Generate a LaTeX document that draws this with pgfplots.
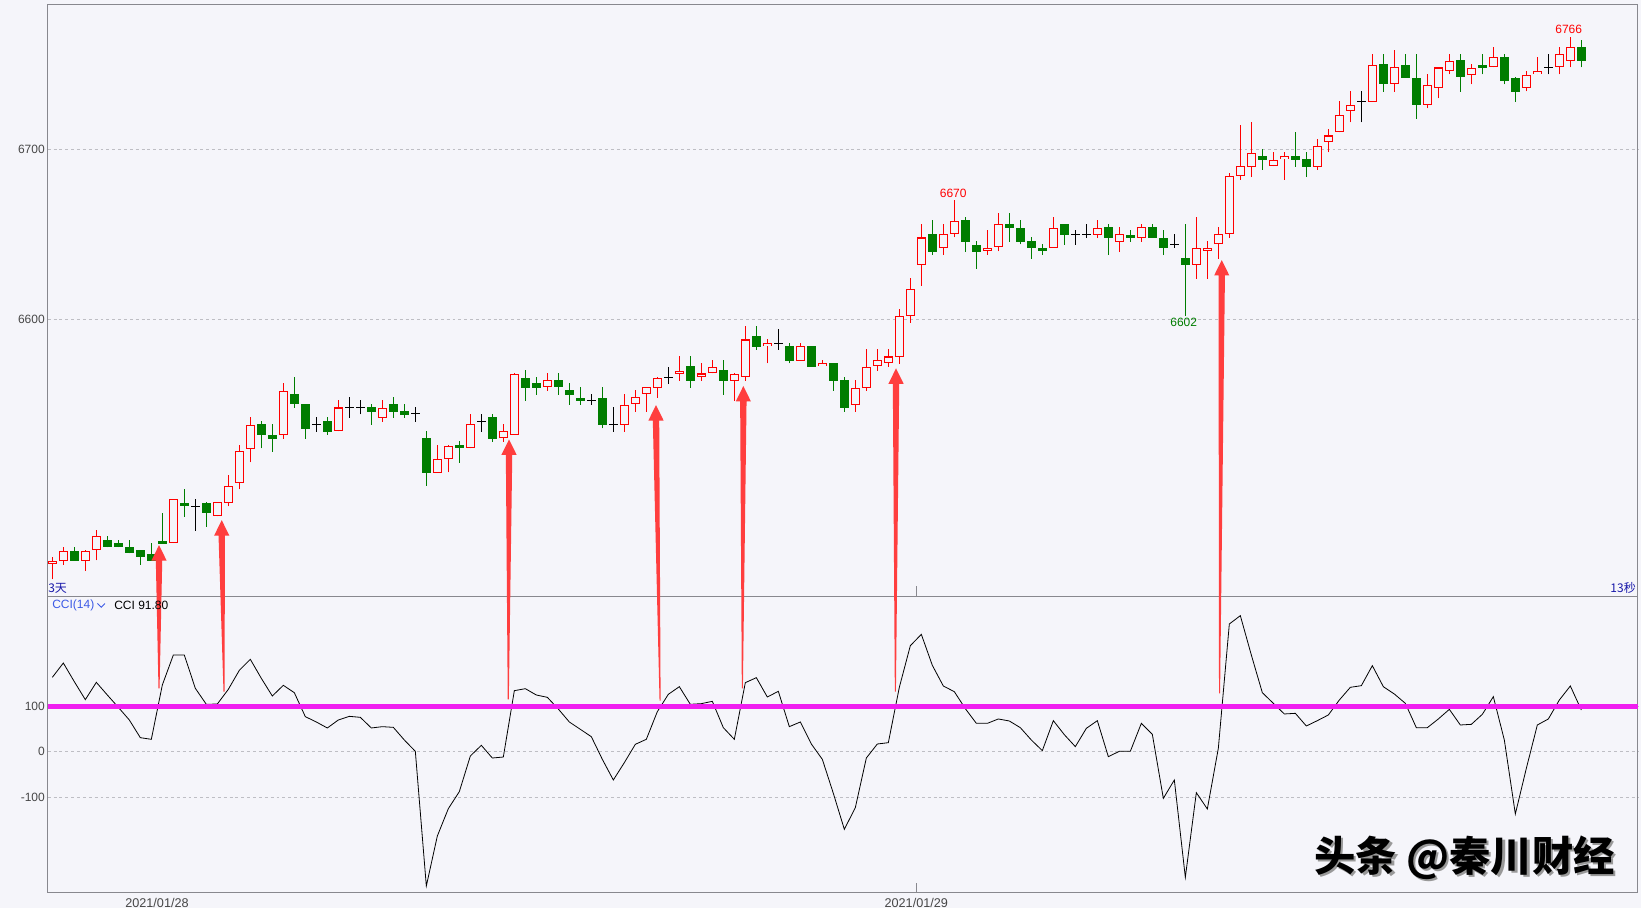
\documentclass[border=0pt]{standalone}
\usepackage{pgfplots}
\pgfplotsset{compat=1.18}
\usepackage{pgfplotstable}
\usepackage{fontspec}
\setmainfont{Liberation Sans}
\newfontfamily\cjk{Noto Sans CJK SC}
\usetikzlibrary{calc}

\definecolor{bg}{RGB}{245,245,250}
\definecolor{frame}{RGB}{136,136,142}
\definecolor{upred}{RGB}{255,0,0}
\definecolor{dngreen}{RGB}{0,125,0}
\definecolor{magline}{RGB}{240,30,240}
\definecolor{arrowred}{RGB}{255,62,62}
\definecolor{gridgray}{RGB}{190,190,196}
\definecolor{lblgray}{RGB}{70,70,70}
\definecolor{navy}{RGB}{25,25,170}
\definecolor{cciblue}{RGB}{60,90,230}

% rising candles (red, hollow)
\pgfplotstableread{
i O H L C
0 6456.1 6460.2 6447.0 6458.2
1 6458.2 6465.9 6455.7 6464.1
3 6458.2 6464.1 6452.1 6464.1
4 6464.1 6476.1 6458.2 6472.3
11 6468.4 6494.1 6468.4 6494.1
15 6484.1 6492.3 6484.1 6492.3
16 6492.3 6508.4 6490.0 6502.3
17 6504.1 6526.1 6500.0 6522.5
18 6524.1 6542.5 6515.9 6538.2
21 6532.3 6562.5 6529.8 6558.2
26 6534.1 6552.5 6534.1 6548.2
30 6542.3 6552.5 6539.8 6548.2
35 6510.0 6526.1 6510.0 6518.2
36 6518.2 6525.9 6510.0 6525.9
38 6524.1 6544.3 6524.1 6538.4
41 6530.0 6538.4 6528.0 6534.3
42 6532.3 6568.2 6532.3 6568.2
45 6560.0 6568.2 6558.0 6564.1
52 6538.2 6555.9 6533.9 6550.0
53 6550.0 6558.4 6545.7 6554.1
54 6555.9 6560.0 6545.7 6560.0
55 6560.0 6565.9 6553.9 6565.9
57 6568.2 6578.4 6563.9 6570.0
59 6565.9 6574.1 6563.9 6568.2
60 6568.2 6576.1 6568.2 6572.1
62 6564.1 6568.2 6551.9 6568.2
63 6565.9 6596.1 6563.9 6588.2
65 6584.1 6588.2 6574.1 6585.9
68 6575.7 6585.9 6575.7 6584.3
70 6572.5 6576.1 6572.5 6574.3
73 6550.0 6564.3 6545.7 6560.0
74 6560.0 6582.3 6558.0 6572.3
75 6572.3 6582.3 6569.8 6575.9
76 6574.1 6582.3 6572.1 6578.2
77 6578.2 6606.1 6573.9 6602.3
78 6602.3 6624.1 6598.0 6618.2
79 6632.3 6656.1 6619.8 6648.2
81 6642.3 6656.1 6638.0 6650.2
82 6650.2 6670.0 6648.2 6658.2
85 6640.0 6652.5 6638.0 6642.3
86 6642.3 6662.3 6640.0 6656.1
91 6642.3 6660.2 6642.3 6654.1
95 6650.0 6658.2 6647.8 6654.1
97 6645.7 6654.1 6639.6 6650.0
99 6648.0 6656.1 6645.7 6654.1
104 6632.1 6660.2 6623.9 6642.3
105 6640.0 6646.1 6623.9 6642.3
106 6644.1 6654.3 6635.7 6650.0
107 6650.0 6685.9 6648.0 6684.1
108 6684.1 6714.3 6682.1 6690.0
109 6690.0 6716.1 6683.7 6698.2
111 6690.0 6698.2 6690.0 6693.9
112 6694.1 6698.2 6682.1 6696.1
115 6690.0 6705.9 6688.0 6702.3
116 6704.1 6712.1 6698.2 6708.2
117 6710.0 6728.4 6710.0 6720.0
118 6722.5 6734.3 6715.9 6726.1
120 6728.2 6755.9 6728.2 6750.0
122 6738.2 6758.2 6733.9 6748.2
125 6725.9 6744.1 6724.1 6738.2
126 6736.1 6748.2 6730.0 6748.2
127 6746.1 6755.9 6744.1 6752.3
129 6744.1 6750.0 6738.2 6748.2
131 6748.2 6760.0 6748.2 6754.1
134 6736.1 6746.1 6734.1 6744.1
135 6744.1 6754.1 6744.1 6745.9
137 6748.2 6760.0 6744.1 6755.9
138 6752.3 6766.0 6748.2 6760.0
}\candleup

% falling candles (green, filled)
\pgfplotstableread{
i O H L C
2 6464.1 6465.9 6458.2 6458.2
5 6470.0 6472.5 6465.9 6465.9
6 6468.4 6470.2 6465.9 6465.9
7 6465.9 6470.2 6462.3 6462.3
8 6464.1 6464.1 6455.7 6460.0
9 6462.3 6468.4 6458.2 6458.2
10 6470.0 6486.1 6468.2 6468.2
12 6492.3 6500.2 6483.9 6490.0
14 6492.3 6492.3 6478.0 6485.9
19 6538.2 6540.2 6524.1 6532.3
20 6532.3 6538.2 6522.1 6529.8
22 6556.1 6566.3 6548.0 6550.0
23 6550.2 6550.2 6529.8 6535.7
25 6540.2 6542.7 6532.1 6533.9
29 6548.2 6550.2 6538.0 6545.7
31 6550.2 6554.3 6542.1 6545.7
32 6545.9 6550.2 6542.1 6543.9
34 6530.2 6534.3 6502.1 6509.8
37 6525.9 6528.4 6515.7 6524.1
40 6542.5 6544.3 6528.0 6529.8
43 6565.9 6570.2 6552.1 6560.0
44 6562.5 6565.9 6555.7 6560.0
46 6564.1 6568.2 6555.7 6560.0
47 6558.4 6562.3 6549.8 6555.9
48 6554.1 6560.0 6549.8 6552.1
50 6554.1 6560.0 6535.9 6538.2
58 6572.5 6578.4 6559.8 6563.9
61 6570.0 6576.1 6555.7 6563.9
64 6590.2 6596.1 6582.1 6583.9
67 6584.3 6585.9 6574.1 6575.7
69 6584.3 6584.3 6572.1 6572.1
71 6574.3 6574.3 6558.0 6563.9
72 6564.3 6565.9 6545.7 6548.0
80 6650.2 6658.2 6638.0 6639.8
83 6658.2 6660.2 6639.8 6645.7
84 6644.1 6646.1 6629.8 6639.8
87 6656.1 6662.3 6645.7 6654.1
88 6654.1 6658.2 6644.1 6645.7
89 6646.1 6648.2 6635.7 6642.1
90 6642.3 6644.3 6638.0 6640.0
92 6656.1 6656.1 6643.9 6649.8
96 6654.1 6656.1 6637.8 6648.0
98 6650.0 6652.3 6645.7 6648.0
100 6654.1 6656.1 6648.0 6648.0
101 6648.2 6652.3 6637.8 6642.1
103 6636.1 6656.1 6602.0 6632.1
110 6696.1 6700.0 6688.0 6693.9
113 6696.1 6710.2 6689.8 6693.9
114 6694.1 6698.2 6683.7 6689.8
121 6750.0 6755.9 6733.9 6738.2
123 6750.0 6755.9 6742.3 6742.3
124 6742.3 6755.9 6718.0 6725.9
128 6752.3 6755.9 6733.9 6742.3
130 6750.0 6755.9 6744.1 6748.2
132 6754.1 6755.9 6738.2 6740.0
133 6742.3 6742.3 6728.0 6734.1
139 6760.0 6764.1 6748.2 6752.3
}\candledn

% unchanged candles (black cross)
\pgfplotstableread{
i P H L
13 6490.0 6494.1 6475.7
24 6538.4 6542.7 6533.9
27 6548.2 6554.3 6542.1
28 6548.2 6552.5 6544.1
33 6544.7 6548.2 6539.8
39 6540.2 6544.3 6533.9
49 6552.5 6555.9 6549.8
51 6538.2 6548.2 6533.9
56 6565.9 6572.1 6561.9
66 6585.9 6594.1 6582.1
93 6650.0 6652.5 6643.9
94 6649.8 6656.1 6647.8
102 6643.9 6650.0 6642.1
119 6728.2 6734.3 6715.9
136 6748.2 6755.9 6744.1
}\candledoji

% CCI(14)
\pgfplotstableread{
i v
0 163.7
1 195.2
2 154.2
3 114.7
4 152.7
5 124.9
6 97.8
7 70.0
8 31.1
9 27.5
10 146.9
11 212.8
12 212.8
13 139.6
14 104.4
15 105.1
16 137.4
17 179.1
18 203.3
19 161.5
20 122.7
21 146.2
22 130.0
23 77.3
24 65.6
25 52.4
26 70.0
27 78.0
28 75.8
29 52.4
30 55.3
31 53.8
32 26.0
33 1.1
34 -294.9
35 -185.0
36 -124.9
37 -87.5
38 -9.2
39 14.3
40 -13.6
41 -11.4
42 134.4
43 138.8
44 124.9
45 119.8
46 94.1
47 65.6
48 49.5
49 33.3
50 -16.5
51 -61.9
52 -23.8
53 16.5
54 27.5
55 88.3
56 126.4
57 143.2
58 104.4
59 105.9
60 111.0
61 53.1
62 27.5
63 152.0
64 163.0
65 120.5
66 133.0
67 55.3
68 65.6
69 17.2
70 -16.5
71 -91.2
72 -170.3
73 -122.7
74 -13.6
75 17.2
76 20.1
77 141.8
78 233.3
79 258.2
80 190.1
81 144.7
82 132.2
83 94.9
84 62.6
85 62.6
86 72.2
87 67.8
88 53.1
89 26.0
90 2.6
91 68.5
92 37.7
93 11.4
94 51.6
95 68.5
96 -10.6
97 1.1
98 1.1
99 62.6
100 38.5
101 -102.2
102 -61.9
103 -275.8
104 -89.7
105 -125.6
106 7.7
107 281.0
108 299.3
109 212.8
110 130.0
111 106.6
112 83.2
113 84.6
114 56.8
115 68.5
116 81.0
117 113.9
118 141.8
119 145.4
120 189.4
121 143.2
122 127.1
123 106.6
124 53.1
125 53.1
126 72.2
127 93.4
128 59.0
129 60.4
130 82.4
131 121.2
132 26.0
133 -136.6
134 -36.3
135 59.0
136 72.2
137 113.9
138 144.7
139 91.8
}\ccidata

\pgfplotsset{
  panel/.style={
    scale only axis, width=1192.7pt,
    xmin=-0.42, xmax=144.15,
    xtick=\empty,
    major tick length=0pt,
    axis line style={draw=frame, line width=0.75pt},
    ymajorgrids,
    major grid style={draw=gridgray, line width=0.6pt, dash pattern=on 2.2pt off 2.2pt},
    yticklabel style={font=\fontsize{9}{10}\selectfont, text=lblgray, anchor=east, inner sep=0pt, xshift=-2pt},
    clip=false,
    anchor=north west,
  },
  wick/.style={draw=none, forget plot,
    error bars/.cd, y dir=plus, y explicit, error mark=none,
    error bar style={draw=#1, line width=0.75pt}},
  body/.style={draw=none, forget plot,
    error bars/.cd, y dir=both, y explicit, error mark=none,
    error bar style={draw=#1, line width=6.75pt}},
  hollow/.style={draw=none, forget plot,
    error bars/.cd, y dir=both, y explicit, error mark=none,
    error bar style={draw=bg, line width=5.2pt}},
}

\begin{document}
\begin{tikzpicture}
\useasboundingbox (0pt,0pt) rectangle (1230.75pt,-681pt);
\fill[bg] (0pt,0pt) rectangle (1230.75pt,-681pt);

% price panel
\begin{axis}[panel, at={(35.78pt,-3pt)}, height=444.2pt,
  ymin=6437.1, ymax=6785.5,
  ytick={6600,6700}, yticklabels={6600,6700}]
  % green
  \addplot[wick=dngreen] table[x=i, y=L, y error expr={\thisrow{H}-\thisrow{L}}] {\candledn};
  \addplot[body=dngreen] table[x=i, y expr={(\thisrow{O}+\thisrow{C})/2}, y error expr={abs(\thisrow{O}-\thisrow{C})/2}] {\candledn};
  % red
  \addplot[wick=upred] table[x=i, y=L, y error expr={\thisrow{H}-\thisrow{L}}] {\candleup};
  \addplot[body=upred] table[x=i, y expr={(\thisrow{O}+\thisrow{C})/2}, y error expr={abs(\thisrow{O}-\thisrow{C})/2}] {\candleup};
  \addplot[hollow] table[x=i, y expr={(\thisrow{O}+\thisrow{C})/2}, y error expr={max(abs(\thisrow{O}-\thisrow{C})/2-0.59,0)}] {\candleup};
  % doji
  \addplot[wick=black] table[x=i, y=L, y error expr={\thisrow{H}-\thisrow{L}}] {\candledoji};
  \addplot[draw=none, forget plot, error bars/.cd, x dir=both, x explicit, error mark=none,
    error bar style={draw=black, line width=0.75pt}]
    table[x=i, y=P, x error expr={0.41}] {\candledoji};

  \node[anchor=south, inner sep=0pt, yshift=2.2pt, text=upred, font=\fontsize{9}{10}\selectfont] at (axis cs:81.9,6670) {6670};
  \node[anchor=south, inner sep=0pt, yshift=2.2pt, text=upred, font=\fontsize{9}{10}\selectfont] at (axis cs:137.85,6766) {6766};
  \node[anchor=north, inner sep=0pt, yshift=-1.5pt, text=dngreen, font=\fontsize{9}{10}\selectfont] at (axis cs:102.85,6602) {6602};

  \coordinate (t1) at (axis cs:9.70,6467.2);
  \coordinate (t2) at (axis cs:15.40,6481.9);
  \coordinate (t3) at (axis cs:41.52,6529.4);
  \coordinate (t4) at (axis cs:54.88,6549.6);
  \coordinate (t5) at (axis cs:62.82,6560.8);
  \coordinate (t6) at (axis cs:76.70,6571.2);
  \coordinate (t7) at (axis cs:106.31,6634.9);
\end{axis}

% CCI panel
\begin{axis}[panel, at={(35.78pt,-447.23pt)}, height=222pt,
  ymin=-308.8, ymax=341.8,
  ytick={-100,0,100}, yticklabels={-100,0,100}]
  \addplot[black, line width=0.6pt] table[x=i, y=v] {\ccidata};
  \addplot[magline, line width=3.3pt, forget plot] coordinates {(-0.42,100) (144.15,100)};

  \coordinate (b1) at (axis cs:9.70,139.6);
  \coordinate (b2) at (axis cs:15.61,132.1);
  \coordinate (b3) at (axis cs:41.45,115.4);
  \coordinate (b4) at (axis cs:55.25,112.3);
  \coordinate (b5) at (axis cs:62.73,139.6);
  \coordinate (b6) at (axis cs:76.64,132.1);
  \coordinate (b7) at (axis cs:106.11,128.6);
\end{axis}

% signal arrows
\foreach \k in {1,...,7}{
  \fill[arrowred] (t\k) -- ($(t\k)+(5.7pt,-11.6pt)$) -- ($(t\k)+(2.4pt,-11.6pt)$)
    -- ($(b\k)+(0.4pt,0pt)$) -- ($(b\k)+(-0.4pt,0pt)$)
    -- ($(t\k)+(-2.4pt,-11.6pt)$) -- ($(t\k)+(-5.7pt,-11.6pt)$) -- cycle;
}

% panel texts
\node[anchor=south west, inner sep=0pt, text=navy, font=\cjk\fontsize{9}{10}\selectfont] at (36pt,-445.5pt) {3天};
\node[anchor=south east, inner sep=0pt, text=navy, font=\cjk\fontsize{9}{10}\selectfont] at (1227pt,-445.5pt) {13秒};
\node[anchor=west, inner sep=0pt, text=cciblue, font=\fontsize{9}{10}\selectfont] at (39pt,-454.1pt) {CCI(14)};
\draw[cciblue, line width=0.7pt] (73.1pt,-452.6pt) -- (75.9pt,-455.4pt) -- (78.7pt,-452.6pt);
\node[anchor=west, inner sep=0pt, text=black, font=\fontsize{9}{10}\selectfont] at (85.5pt,-454.1pt) {CCI 91.80};

% date axis
\draw[frame, line width=0.75pt] (687.2pt,-662.3pt) -- (687.2pt,-669.2pt);
\draw[frame, line width=0.75pt] (687.2pt,-439.5pt) -- (687.2pt,-447.2pt);
\node[anchor=north, inner sep=0pt, text=lblgray, font=\fontsize{9.5}{10}\selectfont] at (117.75pt,-673.6pt) {2021/01/28};
\node[anchor=north, inner sep=0pt, text=lblgray, font=\fontsize{9.5}{10}\selectfont] at (687.2pt,-673.6pt) {2021/01/29};

% watermark
\node[text=black!40, font=\cjk\bfseries\fontsize{31}{33}\selectfont] at (1100.2pt,-645.2pt) {头条 @秦川财经};
\node[text=black, font=\cjk\bfseries\fontsize{31}{33}\selectfont] at (1098.45pt,-643.5pt) {头条 @秦川财经};
\end{tikzpicture}
\end{document}
